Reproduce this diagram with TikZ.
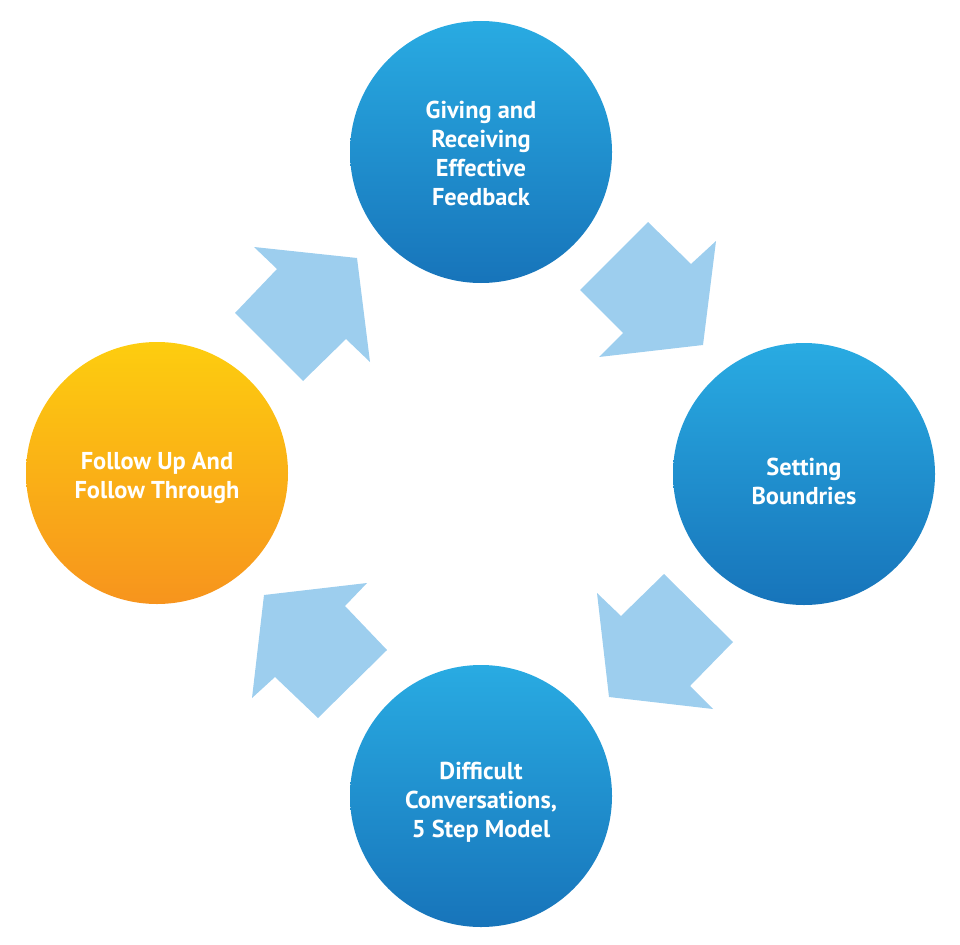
\documentclass[tikz,border=0pt]{standalone}
\usepackage{fontspec}
\setmainfont{PT Sans}
\definecolor{skytop}{HTML}{29ABE2}
\definecolor{skybot}{HTML}{1774BA}
\definecolor{suntop}{HTML}{FDCD0F}
\definecolor{sunbot}{HTML}{F7941D}
\definecolor{flowblue}{HTML}{9DCEEE}
\begin{document}
\begin{tikzpicture}
  [x=1pt,y=-1pt,
   disc/.style={circle,minimum size=262pt,inner sep=0pt},
   sky/.style={disc,top color=skytop,bottom color=skybot},
   sun/.style={disc,top color=suntop,bottom color=sunbot},
   caption/.style={text=white,align=center,inner sep=0pt,
     font=\bfseries\fontsize{24.4}{29}\selectfont},
   flow/.style={fill=flowblue}]
  \useasboundingbox (0,0) rectangle (960,944);

  \node[sky] (give) at (481,152) {};
  \node[sky] (bound) at (804,474) {};
  \node[sky] (talk) at (481,796) {};
  \node[sun] (follow) at (157,473) {};

  \node[caption] (give text) at ([yshift=-1pt]give) {Giving and\\Receiving\\Effective\\Feedback};
  \node[caption] (bound text) at ([yshift=-7pt]bound) {Setting\\Boundries};
  \node[caption] (talk text) at ([yshift=-6pt]talk) {Difficult\\Conversations,\\5 Step Model};
  \node[caption] (follow text) at ([yshift=-5pt]follow) {Follow Up And\\Follow Through};

  % block arrows between the circles
  \fill[flow] (580,290) -- (648,222) -- (691,264) -- (716,241) -- (703,345) -- (599,357) -- (623,333) -- cycle;
  \fill[flow] (664,574) -- (733,642) -- (690,686) -- (713,709) -- (609,697) -- (597,593) -- (621,616) -- cycle;
  \fill[flow] (318,718) -- (387,650) -- (345,606) -- (367,583) -- (264,595) -- (252,698) -- (275,677) -- cycle;
  \fill[flow] (303,381) -- (235,313) -- (277,269) -- (254,247) -- (357,258) -- (370,362) -- (346,339) -- cycle;

\end{tikzpicture}
\end{document}
